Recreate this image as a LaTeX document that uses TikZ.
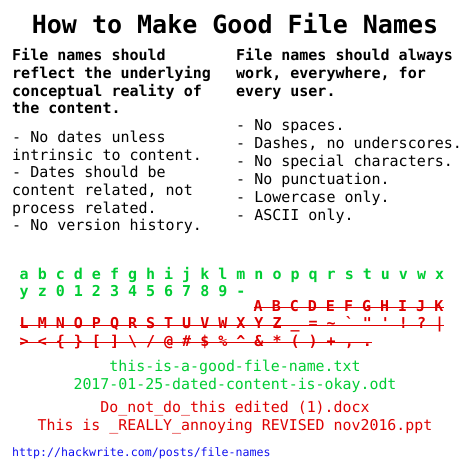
\documentclass[tikz,border=0pt]{standalone}
\usepackage{fontspec}
\setmonofont{DejaVu Sans Mono}
\definecolor{goodgreen}{RGB}{0,204,51}
\definecolor{badred}{RGB}{221,0,0}
\definecolor{linkblue}{RGB}{17,17,238}
\frenchspacing
\begin{document}
\begin{tikzpicture}[x=1pt,y=-1pt]
        \useasboundingbox (0,0) rectangle (470,470);

        \node (title) at (235,33.3) [anchor=base,inner sep=0pt,
          font=\ttfamily\bfseries\fontsize{25}{30}\selectfont] {How to Make Good File Names};

        % multi-line nodes: base is the last line
        \begin{scope}[every node/.style={anchor=base west,inner sep=0pt,align=left,
            font=\ttfamily\fontsize{15}{17.7}\selectfont}]
          \node (meaning) at (12,113.8) [font=\ttfamily\bfseries\fontsize{15}{17.7}\selectfont]
            {File names should\\reflect the underlying\\conceptual reality of\\the content.};
          \node (meaningrules) at (12,230.9)
            {- No dates unless\\intrinsic to content.\\- Dates should be\\content related, not\\process related.\\- No version history.};
          \node (works) at (236,96.1) [font=\ttfamily\bfseries\fontsize{15}{17.7}\selectfont]
            {File names should always\\work, everywhere, for\\every user.};
          \node (worksrules) at (236,220.2) [font=\ttfamily\fontsize{15}{17.9}\selectfont]
            {- No spaces.\\- Dashes, no underscores.\\- No special characters.\\- No punctuation.\\- Lowercase only.\\- ASCII only.};
        \end{scope}

        \begin{scope}[every node/.style={anchor=base west,inner sep=0pt,
            font=\ttfamily\bfseries\fontsize{15}{18}\selectfont}]
          \node (lower)   at (19.5,279)   [text=goodgreen] {a b c d e f g h i j k l m n o p q r s t u v w x};
          \node (digits)  at (19.5,296.7) [text=goodgreen] {y z 0 1 2 3 4 5 6 7 8 9 -};
          \node (upper)   at (253.5,311)  [text=badred] {A B C D E F G H I J K};
          \node (uppermore) at (19.5,328.7) [text=badred]
            {L M N O P Q R S T U V W X Y Z \_ = \textasciitilde{} ` " ' ! ? |};
          \node (symbols) at (19.5,346.4) [text=badred]
            {\textgreater{} < \{ \} [ ] \textbackslash{} / @ \# \$ \% \textasciicircum{} \& * ( ) + , .};
        \end{scope}

        \foreach \row in {upper,uppermore,symbols}
          \draw[badred,line width=1pt] ([yshift=3.5pt]\row.base west) -- ([yshift=3.5pt]\row.base east);

        \begin{scope}[every node/.style={anchor=base,inner sep=0pt,
            font=\ttfamily\fontsize{14.9}{18}\selectfont}]
          \node (good)     at (235,371)   [text=goodgreen] {this-is-a-good-file-name.txt};
          \node (dated)    at (235,389)   [text=goodgreen] {2017-01-25-dated-content-is-okay.odt};
          \node (bad)      at (235,412.7) [text=badred] {Do\_not\_do\_this edited (1).docx};
          \node (annoying) at (235,430.7) [text=badred] {This is \_REALLY\_annoying REVISED nov2016.ppt};
        \end{scope}

        \node (url) at (12,456) [anchor=base west,inner sep=0pt,text=linkblue,
          font=\ttfamily\fontsize{11.6}{14}\selectfont] {http://hackwrite.com/posts/file-names};

      \end{tikzpicture}
\end{document}
